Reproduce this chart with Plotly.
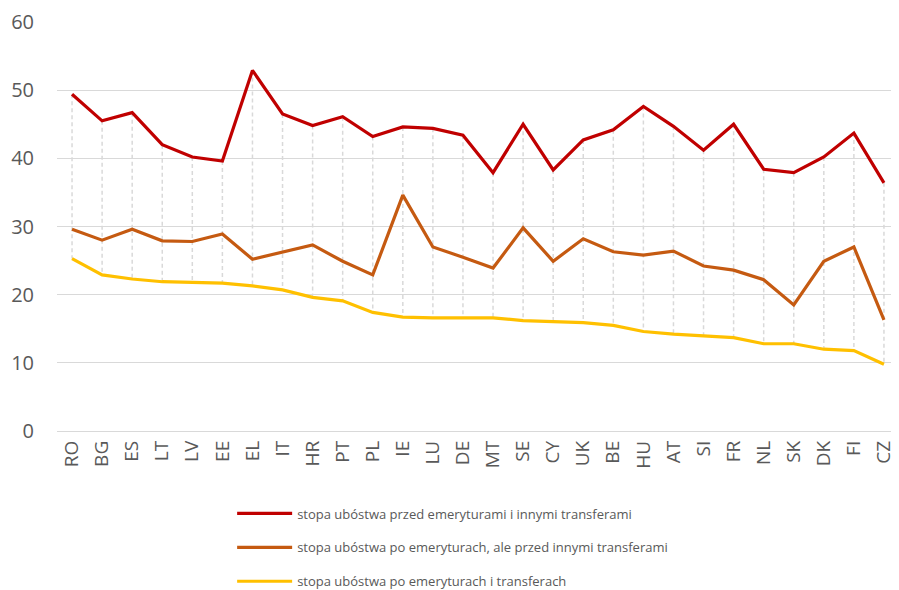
import plotly.graph_objects as go

countries = ["RO", "BG", "ES", "LT", "LV", "EE", "EL", "IT", "HR", "PT", "PL", "IE", "LU", "DE",
             "MT", "SE", "CY", "UK", "BE", "HU", "AT", "SI", "FR", "NL", "SK", "DK", "FI", "CZ"]

before_all = [49.4, 45.5, 46.7, 42.0, 40.2, 39.6, 52.9, 46.5, 44.8, 46.1, 43.2, 44.6, 44.4, 43.4,
              37.9, 45.0, 38.3, 42.7, 44.2, 47.6, 44.7, 41.2, 45.0, 38.4, 37.9, 40.2, 43.7, 36.4]
after_pensions = [29.6, 28.0, 29.6, 27.9, 27.8, 28.9, 25.2, 26.3, 27.3, 24.9, 22.9, 34.6, 27.0, 25.5,
                  23.9, 29.8, 24.9, 28.2, 26.3, 25.8, 26.4, 24.2, 23.6, 22.2, 18.5, 24.9, 27.0, 16.3]
after_all = [25.3, 22.9, 22.3, 21.9, 21.8, 21.7, 21.3, 20.7, 19.6, 19.1, 17.4, 16.7, 16.6, 16.6,
             16.6, 16.2, 16.1, 15.9, 15.5, 14.6, 14.2, 14.0, 13.7, 12.8, 12.8, 12.0, 11.8, 9.8]

y_ticks = [0, 10, 20, 30, 40, 50, 60]

names = [
    "stopa ubóstwa przed emeryturami i innymi transferami",
    "stopa ubóstwa po emeryturach, ale przed innymi transferami",
    "stopa ubóstwa po emeryturach i transferach",
]
colors = ["#C00000", "#C55A11", "#FFC000"]

TEXT = "#595959"
FONT = "Open Sans"

fig = go.Figure()

# high-low lines (from max to min of the three series at each category)
hl_x, hl_y = [], []
for c, a, b, d in zip(countries, before_all, after_pensions, after_all):
    hl_x += [c, c, None]
    hl_y += [max(a, b, d), min(a, b, d), None]
fig.add_trace(go.Scatter(x=hl_x, y=hl_y, mode="lines", showlegend=False, hoverinfo="skip",
                         line=dict(color="#d9d9d9", width=1.5, dash="4px,3px")))

for i, (vals, name, col) in enumerate(zip([before_all, after_pensions, after_all], names, colors)):
    fig.add_trace(go.Scatter(x=countries, y=vals, mode="lines", name=name,
                             legendgroup=f"g{i}",
                             line=dict(color=col, width=3.2)))

fig.update_layout(
    width=891, height=582,
    margin=dict(l=49, r=0, t=14, b=159, autoexpand=False),
    paper_bgcolor="white", plot_bgcolor="white",
    font=dict(family=FONT, color=TEXT),
    showlegend=True,
    legend=dict(orientation="v", x=0.208, xanchor="left", y=-0.165, yanchor="top",
                font=dict(size=13, color=TEXT, family=FONT),
                tracegroupgap=14, itemwidth=55, bgcolor="rgba(0,0,0,0)"),
    xaxis=dict(type="category", categoryorder="array", categoryarray=countries,
               range=[-0.5, len(countries) - 0.5], showgrid=False, zeroline=False,
               showline=False, tickangle=-90, tickfont=dict(size=19, color=TEXT, family=FONT),
               ticks="", ticklabelstandoff=5),
    yaxis=dict(range=[0, 60], tickvals=y_ticks, showgrid=True, gridcolor="#d9d9d9", gridwidth=1.3,
               zeroline=True, zerolinecolor="#d9d9d9", zerolinewidth=1.3, showline=False,
               tickfont=dict(size=20, color=TEXT, family=FONT), ticks="", ticklabelstandoff=22),
)

fig.write_html("out.html")
